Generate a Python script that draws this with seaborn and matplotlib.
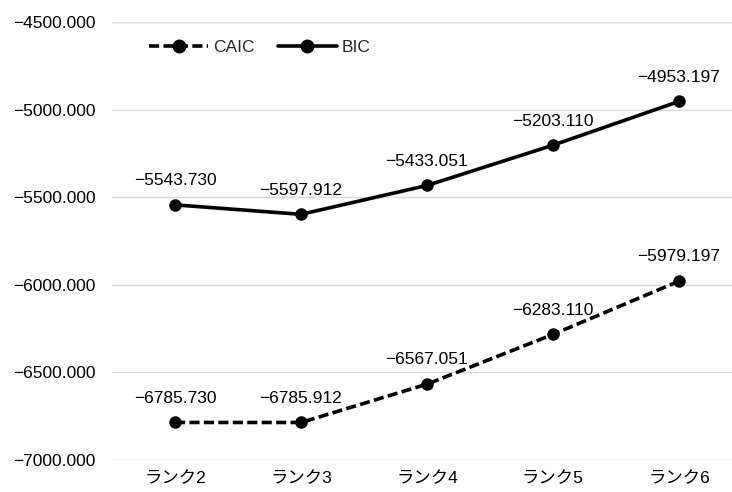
import matplotlib
matplotlib.use("Agg")
import matplotlib.pyplot as plt
import seaborn as sns
import pandas as pd
from matplotlib.ticker import FuncFormatter
from matplotlib.lines import Line2D

ranks = ["ランク2", "ランク3", "ランク4", "ランク5", "ランク6"]
caic = [-6785.730, -6785.912, -6567.051, -6283.110, -5979.197]
bic = [-5543.730, -5597.912, -5433.051, -5203.110, -4953.197]
series = ["CAIC", "BIC"]

sns.set_theme(style="white")
plt.rcParams["font.family"] = ["Liberation Sans", "Noto Sans CJK JP", "DejaVu Sans"]

df = pd.DataFrame({
    "rank": ranks * 2,
    "value": caic + bic,
    "series": ["CAIC"] * len(ranks) + ["BIC"] * len(ranks),
})
df["pos"] = df["rank"].map({r: i for i, r in enumerate(ranks)})

fig = plt.figure(figsize=(7.32, 4.92), dpi=100)
ax = fig.add_axes([112 / 732, 32 / 492, 620 / 732, 438 / 492])

dash = (2.8, 1.2)
sns.lineplot(
    data=df, x="pos", y="value", style="series", style_order=series,
    dashes={"CAIC": dash, "BIC": ""}, markers={"CAIC": "o", "BIC": "o"},
    color="black", linewidth=2.6, markersize=9, markeredgewidth=0,
    ax=ax, legend=False,
)

def fmt(v):
    return f"{v:.3f}".replace("-", "\u2212")

for vals in (caic, bic):
    for i, v in enumerate(vals):
        ax.annotate(fmt(v), (i, v), xytext=(0, 12), textcoords="offset points",
                    ha="center", va="bottom", fontsize=12.5, color="black")

ax.set_ylim(-7000, -4500)
ax.set_yticks([-7000, -6500, -6000, -5500, -5000, -4500])
ax.yaxis.set_major_formatter(FuncFormatter(lambda v, p: fmt(v)))
ax.set_xlim(-0.5, -0.5 + 620 / 126)
ax.set_xticks(range(len(ranks)))
ax.set_xticklabels(ranks)
ax.tick_params(axis="both", length=0, labelsize=12.5, colors="black")
ax.tick_params(axis="x", pad=8)
ax.tick_params(axis="y", pad=12)
ax.grid(axis="y", color="#d9d9d9", linewidth=1)
ax.set_axisbelow(True)
for s in ax.spines.values():
    s.set_visible(False)
ax.set_xlabel("")
ax.set_ylabel("")

handles = [
    Line2D([], [], color="black", linewidth=2.6, linestyle=(0, dash), marker="o", markersize=9),
    Line2D([], [], color="black", linewidth=2.6, marker="o", markersize=9),
]
ax.legend(handles, series, loc="upper left", bbox_to_anchor=(0.035, 0.995), ncol=2,
          frameon=False, fontsize=12.5, handlelength=3.4, columnspacing=1.3, handletextpad=0.3)

fig.savefig("out.png", dpi=100)
